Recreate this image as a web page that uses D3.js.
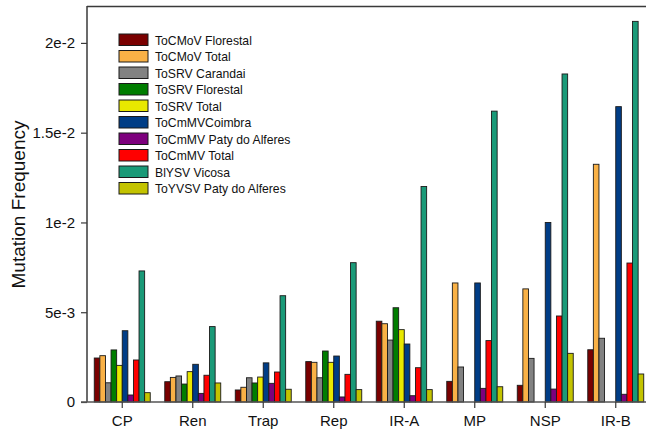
<!DOCTYPE html>
<html><head><meta charset="utf-8">
<script src="https://cdn.jsdelivr.net/npm/d3@7"></script>
<style>body{margin:0;background:#fff}svg{display:block;font-family:"Liberation Sans",Arial,sans-serif}</style>
</head><body>
<svg id="c" width="646" height="436"></svg>
<script>
const categories = ["CP","Ren","Trap","Rep","IR-A","MP","NSP","IR-B"];
const seriesNames = ["ToCMoV Florestal","ToCMoV Total","ToSRV Carandai","ToSRV Florestal","ToSRV Total","ToCmMVCoimbra","ToCmMV Paty do Alferes","ToCmMV Total","BlYSV Vicosa","ToYVSV Paty do Alferes"];
const seriesColors = ["#7a0000","#f9b146","#828282","#007d00","#e8e800","#003d86","#7d007d","#ff0000","#1a9a78","#c3c300"];
// values per series, in category order
const toCMoVFlorestal   = [0.00245,0.00113,0.00067,0.00225,0.00450,0.00115,0.00093,0.00291];
const toCMoVTotal       = [0.00258,0.00137,0.00082,0.00221,0.00436,0.00663,0.00630,0.01324];
const toSRVCarandai     = [0.00107,0.00145,0.00135,0.00135,0.00345,0.00195,0.00243,0.00355];
const toSRVFlorestal    = [0.00290,0.00100,0.00106,0.00284,0.00525,0,0,0];
const toSRVTotal        = [0.00204,0.00169,0.00139,0.00221,0.00403,0,0,0];
const toCmMVCoimbra     = [0.00397,0.00210,0.00218,0.00256,0.00323,0.00663,0.01000,0.01645];
const toCmMVPaty        = [0.00039,0.00048,0.00104,0.00028,0.00035,0.00076,0.00072,0.00043];
const toCmMVTotal       = [0.00234,0.00149,0.00167,0.00154,0.00191,0.00342,0.00479,0.00774];
const blYSVVicosa       = [0.00730,0.00420,0.00592,0.00776,0.01200,0.01620,0.01827,0.02120];
const toYVSVPaty        = [0.00052,0.00106,0.00071,0.00069,0.00069,0.00085,0.00271,0.00156];
const seriesValues = [toCMoVFlorestal,toCMoVTotal,toSRVCarandai,toSRVFlorestal,toSRVTotal,toCmMVCoimbra,toCmMVPaty,toCmMVTotal,blYSVVicosa,toYVSVPaty];
const yTicks = [0,0.005,0.01,0.015,0.02];
const yTickLabels = ["0","5e-3","1e-2","1.5e-2","2e-2"];
const yLabel = "Mutation Frequency";

const svg = d3.select("#c");
const L = 87, R = 651, T = 7, B = 402;
const x0 = d3.scaleBand().domain(categories).range([L, R]).padding(0);
const bw = x0.bandwidth();
const x1 = d3.scaleBand().domain(seriesNames).range([bw*0.103, bw*0.897]).padding(0);
const y = d3.scaleLinear().domain([0, 0.022]).range([B, T]);

// bars
const g = svg.append("g");
seriesNames.forEach((s, si) => {
  g.selectAll(null).data(seriesValues[si].map((v, ci) => ({v, c: categories[ci]})).filter(d => d.v > 0))
    .enter().append("rect")
    .attr("x", d => x0(d.c) + x1(s))
    .attr("y", d => y(d.v))
    .attr("width", x1.bandwidth())
    .attr("height", d => B - y(d.v))
    .attr("fill", seriesColors[si])
    .attr("stroke", "#1a1a1a").attr("stroke-width", 0.9);
});

// frame top
svg.append("line").attr("x1", L).attr("x2", 646).attr("y1", T - 0.5).attr("y2", T - 0.5)
  .attr("stroke", "#3a3a3a").attr("stroke-width", 1.5);

// y axis
const ya = svg.append("g").attr("transform", `translate(${L},0)`)
  .call(d3.axisLeft(y).tickValues(yTicks).tickFormat((d, i) => yTickLabels[i]).tickSize(6).tickSizeOuter(0).tickPadding(6));
ya.select(".domain").attr("stroke", "#3a3a3a").attr("stroke-width", 1.5).attr("d", `M0,${T-1}V${B}`);
ya.selectAll(".tick line").attr("stroke", "#3a3a3a").attr("stroke-width", 1.2);
ya.selectAll("text").attr("font-size", 15).attr("fill", "#111").attr("font-family", "Liberation Sans, Arial, sans-serif");

// x axis
const xa = svg.append("g").attr("transform", `translate(0,${B})`)
  .call(d3.axisBottom(x0).tickSize(6).tickSizeOuter(0).tickPadding(7));
xa.select(".domain").attr("stroke", "#555").attr("stroke-width", 1.5).attr("d", `M${L-6},0H646`);
xa.selectAll(".tick line").attr("stroke", "#3a3a3a").attr("stroke-width", 1.2);
xa.selectAll("text").attr("font-size", 15).attr("fill", "#111").attr("font-family", "Liberation Sans, Arial, sans-serif");

// y label
svg.append("text").attr("transform", `translate(25,${(T+B)/2}) rotate(-90)`)
  .attr("text-anchor", "middle").attr("font-size", 19).attr("fill", "#111").text(yLabel);

// legend
const lg = svg.append("g").attr("transform", "translate(119,34)");
seriesNames.forEach((s, i) => {
  const row = lg.append("g").attr("transform", `translate(0,${i*16.5})`);
  row.append("rect").attr("width", 29).attr("height", 11.5).attr("fill", seriesColors[i])
    .attr("stroke", "#1a1a1a").attr("stroke-width", 1);
  row.append("text").attr("x", 36).attr("y", 10.5).attr("font-size", 12.2).attr("fill", "#111").text(s);
});
</script>
</body></html>
